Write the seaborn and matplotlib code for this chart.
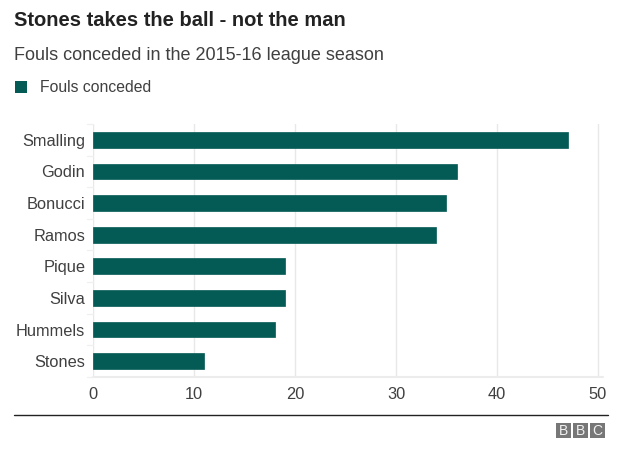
import matplotlib
matplotlib.use("Agg")
import matplotlib.pyplot as plt
import seaborn as sns
import pandas as pd
from matplotlib.patches import Rectangle

players = ["Smalling", "Godin", "Bonucci", "Ramos", "Pique", "Silva", "Hummels", "Stones"]
fouls = [47, 36, 35, 34, 19, 19, 18, 11]
xticks = [0, 10, 20, 30, 40, 50]

title = "Stones takes the ball - not the man"
subtitle = "Fouls conceded in the 2015-16 league season"
legend_label = "Fouls conceded"

sns.set_theme(style="white")
plt.rcParams['font.family'] = ['Liberation Sans', 'DejaVu Sans']

BAR = "#045a55"
TXT = "#404040"

df = pd.DataFrame({"player": players, "fouls": fouls})

fig = plt.figure(figsize=(6.24, 4.61), dpi=100)
ax = fig.add_axes([93/624, 1-377/461, 510/624, (377-124)/461])

sns.barplot(data=df, x="fouls", y="player", color=BAR, width=0.5, ax=ax,
            saturation=1, edgecolor=BAR, linewidth=0.5, zorder=3)

ax.set_xlim(0, 50.5)
ax.set_ylim(len(players) - 0.5, -0.5)
ax.set_xticks(xticks)
ax.set_xticklabels([str(t) for t in xticks])
ax.xaxis.grid(True, color="#e8e8e8", linewidth=1, zorder=0)
ax.set_xlabel("")
ax.set_ylabel("")
for s in ax.spines.values():
    s.set_visible(False)
ax.axhline(len(players) - 0.5, color="#ececec", lw=1.5, zorder=1, clip_on=False)
ax.tick_params(axis="x", length=0, pad=7, labelsize=11.8, labelcolor=TXT)
ax.tick_params(axis="y", length=0, pad=5.5, labelsize=11.8, labelcolor=TXT)

# small boundary ticks on the y axis
for i in range(len(players) + 1):
    ax.plot([-0.6, 0], [i - 0.5, i - 0.5], color="#f0f0f0", lw=1, clip_on=False, zorder=1)

fig.text(14/624, 1-20/461, title, fontsize=14.5, fontweight="bold", color="#222222",
         va="center", ha="left")
fig.text(14/624, 1-55/461, subtitle, fontsize=13, color=TXT, va="center", ha="left")
fig.patches.append(Rectangle((15/624, 1-93/461), 12/624, 12/461, transform=fig.transFigure,
                             facecolor=BAR, edgecolor="none"))
fig.text(40/624, 1-87/461, legend_label, fontsize=11.3, color=TXT, va="center", ha="left")

# bottom rule
fig.add_artist(plt.Line2D([14/624, 608/624], [1-415/461, 1-415/461], color="#222222", lw=1,
                          transform=fig.transFigure))
# BBC logo
for k, letter in enumerate("BBC"):
    x0 = 556 + k * 17
    fig.patches.append(Rectangle((x0/624, 1-438/461), 15/624, 15/461, transform=fig.transFigure,
                                 facecolor="#777777", edgecolor="none"))
    fig.text((x0 + 7.5)/624, 1-430.5/461, letter, fontsize=10, color="#f2f2f2",
             ha="center", va="center")

fig.savefig("out.png", dpi=100, facecolor="white")
